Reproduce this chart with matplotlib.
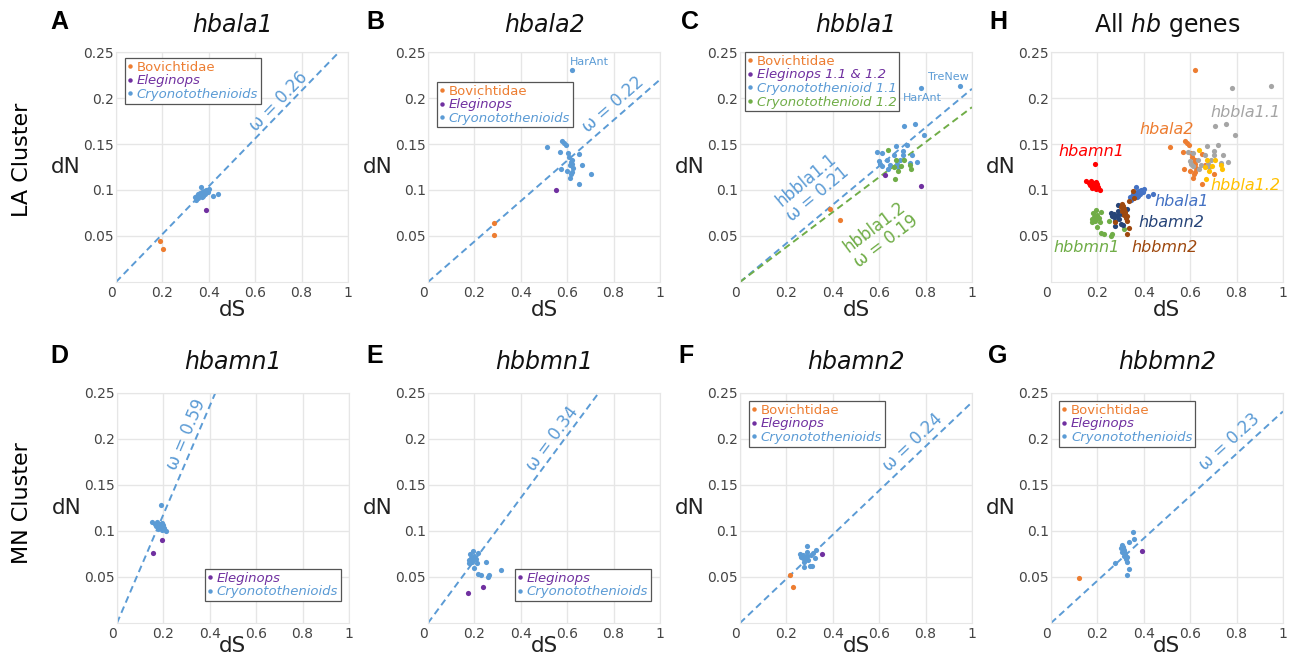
import numpy as np
import matplotlib.pyplot as plt
from matplotlib.lines import Line2D

# ---- data (dS, dN) ----
# A  hbala1
a_bov_x = [0.189, 0.201]
a_bov_y = [0.0446, 0.036]
a_ele_x = [0.386]
a_ele_y = [0.078]
a_cry_x = [0.34, 0.345, 0.35, 0.352, 0.355, 0.36, 0.362, 0.365, 0.367, 0.37,
           0.372, 0.375, 0.378, 0.38, 0.385, 0.39, 0.395, 0.40, 0.42, 0.44]
a_cry_y = [0.092, 0.089, 0.094, 0.091, 0.096, 0.093, 0.097, 0.103, 0.095, 0.092,
           0.098, 0.094, 0.097, 0.099, 0.096, 0.1, 0.098, 0.101, 0.094, 0.096]
a_omega = 0.26

# B  hbala2 (last cryo point is HarAnt)
b_bov_x = [0.283, 0.283]
b_bov_y = [0.064, 0.051]
b_ele_x = [0.553]
b_ele_y = [0.0996]
b_cry_x = [0.514, 0.576, 0.585, 0.593, 0.571, 0.604, 0.607, 0.65, 0.617, 0.621, 0.614,
           0.664, 0.574, 0.6, 0.62, 0.617, 0.614, 0.65, 0.702, 0.621, 0.624, 0.619]
b_cry_y = [0.147, 0.1536, 0.151, 0.149, 0.1416, 0.1406, 0.136, 0.139, 0.130, 0.128, 0.127,
           0.127, 0.1225, 0.1207, 0.12, 0.117, 0.113, 0.1065, 0.117, 0.1326, 0.124, 0.230]
b_omega = 0.22

# C  hbbla1 (HarAnt and TreNew are in the 1.1 set)
c_bov_x = [0.386, 0.429]
c_bov_y = [0.0797, 0.067]
c_ele_x = [0.626, 0.78]
c_ele_y = [0.116, 0.104]
c_cry1_x = [0.590, 0.614, 0.673, 0.719, 0.708, 0.753, 0.794, 0.780, 0.947, 0.600, 0.633, 0.662,
            0.691, 0.702, 0.702, 0.741, 0.612, 0.647, 0.676, 0.731, 0.763, 0.640, 0.683, 0.604]
c_cry1_y = [0.1413, 0.1402, 0.1478, 0.1486, 0.1692, 0.1714, 0.1594, 0.2112, 0.2127, 0.1315, 0.1322, 0.1377,
            0.1330, 0.1377, 0.1424, 0.1377, 0.1261, 0.1268, 0.1286, 0.1293, 0.1304, 0.1232, 0.1250, 0.1279]
c_cry2_x = [0.636, 0.673, 0.694, 0.669, 0.738, 0.708, 0.683, 0.662, 0.734]
c_cry2_y = [0.1438, 0.1330, 0.1257, 0.1123, 0.1232, 0.1330, 0.1207, 0.1250, 0.1268]
c_omega1 = 0.21
c_omega2 = 0.19

# D  hbamn1
d_ele_x = [0.156, 0.195]
d_ele_y = [0.0759, 0.0903]
d_cry_x = [0.188, 0.149, 0.163, 0.173, 0.182, 0.192, 0.199, 0.188,
           0.202, 0.211, 0.177, 0.196, 0.185, 0.170, 0.180, 0.194]
d_cry_y = [0.128, 0.110, 0.108, 0.110, 0.1055, 0.109, 0.1066, 0.103,
           0.103, 0.1004, 0.102, 0.101, 0.1077, 0.1055, 0.1035, 0.1045]
d_omega = 0.59

# E  hbbmn1
e_ele_x = [0.171, 0.236]
e_ele_y = [0.0325, 0.0387]
e_cry_x = [0.193, 0.179, 0.2, 0.207, 0.176, 0.19, 0.176, 0.21, 0.2,
           0.25, 0.214, 0.229, 0.257, 0.261, 0.314, 0.214, 0.185, 0.195]
e_cry_y = [0.0784, 0.0748, 0.0723, 0.0697, 0.0686, 0.066, 0.065, 0.065, 0.0596,
           0.066, 0.0535, 0.0517, 0.0499, 0.0524, 0.0578, 0.0759, 0.0705, 0.068]
e_omega = 0.34

# F  hbamn2
f_bov_x = [0.216, 0.227]
f_bov_y = [0.0524, 0.0387]
f_ele_x = [0.353]
f_ele_y = [0.0751]
f_cry_x = [0.288, 0.259, 0.273, 0.288, 0.27, 0.295, 0.277, 0.277, 0.302,
           0.309, 0.324, 0.314, 0.328, 0.305, 0.283, 0.265, 0.29]
f_cry_y = [0.0838, 0.0751, 0.074, 0.073, 0.0705, 0.0686, 0.0658, 0.0607, 0.0625,
           0.0621, 0.0705, 0.0759, 0.0795, 0.074, 0.0715, 0.072, 0.0768]
f_omega = 0.24

# G  hbbmn2
g_bov_x = [0.122]
g_bov_y = [0.0488]
g_ele_x = [0.393]
g_ele_y = [0.0788]
g_cry_x = [0.353, 0.358, 0.338, 0.305, 0.309, 0.305, 0.32, 0.313, 0.324,
           0.329, 0.327, 0.276, 0.338, 0.329, 0.31, 0.315, 0.318, 0.30]
g_cry_y = [0.0986, 0.0914, 0.0885, 0.0849, 0.0813, 0.0777, 0.0759, 0.0723, 0.0694,
           0.0658, 0.0715, 0.065, 0.0585, 0.0524, 0.083, 0.079, 0.074, 0.081]
g_omega = 0.23

# H  all hb genes: cryonotothenioid points of every gene
genes = ['hbala1', 'hbala2', 'hbbla1.1', 'hbbla1.2', 'hbamn1', 'hbbmn1', 'hbamn2', 'hbbmn2']
gene_x = [a_cry_x, b_cry_x, c_cry1_x, c_cry2_x, d_cry_x, e_cry_x, f_cry_x, g_cry_x]
gene_y = [a_cry_y, b_cry_y, c_cry1_y, c_cry2_y, d_cry_y, e_cry_y, f_cry_y, g_cry_y]

xticks = [0, 0.2, 0.4, 0.6, 0.8, 1]
xtick_labels = ['0', '0.2', '0.4', '0.6', '0.8', '1']
yticks = [0.05, 0.1, 0.15, 0.2, 0.25]
ytick_labels = ['0.05', '0.1', '0.15', '0.2', '0.25']

# ---- colours ----
ORANGE = '#ED7D31'
PURPLE = '#7030A0'
BLUE = '#5B9BD5'
GREEN = '#70AD47'
gene_colors = ['#4472C4', '#ED7D31', '#A5A5A5', '#FFC000', '#FF0000', '#70AD47', '#264478', '#9E480E']

W, H = 1291, 664
fig = plt.figure(figsize=(W / 100, H / 100), dpi=100)
plt.rcParams['font.family'] = 'DejaVu Sans'


def make_ax(left_px, bottom_px):
    return fig.add_axes([left_px / W, (H - bottom_px) / H, 232 / W, 230 / H])


def style(ax, title, title_y, xlabel_y):
    ax.set_xlim(0, 1)
    ax.set_ylim(0, 0.25)
    ax.set_xticks(xticks)
    ax.set_xticklabels(xtick_labels)
    ax.set_yticks(yticks)
    ax.set_yticklabels(ytick_labels)
    ax.get_xticklabels()[0].set_ha('right')
    ax.grid(True, color='#e6e6e6', lw=1)
    ax.set_axisbelow(True)
    for s in ax.spines.values():
        s.set_color('#e6e6e6')
    ax.tick_params(axis='both', length=0, labelsize=10, labelcolor='#444')
    ax.tick_params(axis='y', pad=1.5)
    ax.tick_params(axis='x', pad=3)
    ax.set_xlabel('dS', fontsize=15.5, color='#222', va='center')
    ax.set_ylabel('dN', fontsize=15.5, color='#222', rotation=0, ha='center', va='center')
    ax.xaxis.set_label_coords(0.5, xlabel_y)
    ax.yaxis.set_label_coords(-0.215, 0.5)
    ax.text(0.5, title_y, title, transform=ax.transAxes, ha='center', va='center',
            fontsize=17, style='italic', color='#111')


def dots(ax, x, y, c):
    ax.scatter(x, y, s=14, color=c, linewidths=0, zorder=3)


def omega_line(ax, omega, c, lx, ly, label, fs=12):
    xs = np.array([0.0, 1.0])
    ax.plot(xs, omega * xs, color=c, lw=1.4, dashes=(3.5, 2.2), zorder=2)
    ax.text(lx, ly, label, color=c, fontsize=fs, ha='center', va='center',
            rotation=np.degrees(np.arctan(omega)), transform_rotates_text=True,
            rotation_mode='anchor', multialignment='center', linespacing=1.05)


def add_legend(ax, entries, loc, anchor):
    handles = [Line2D([], [], ls='none', marker='o', ms=3.2, color=c, mew=0) for _, c, _ in entries]
    leg = ax.legend(handles, [e[0] for e in entries], loc=loc, bbox_to_anchor=anchor,
                    fontsize=9.5, frameon=True, fancybox=False, edgecolor='#555',
                    framealpha=1, borderpad=0.2, labelspacing=0.05, handlelength=0.4,
                    handletextpad=0.3, borderaxespad=0)
    leg.get_frame().set_linewidth(0.9)
    for t, (_, c, it) in zip(leg.get_texts(), entries):
        t.set_color(c)
        if it:
            t.set_style('italic')


std3 = [('Bovichtidae', ORANGE, False), ('Eleginops', PURPLE, True),
        ('Cryonotothenioids', BLUE, True)]
std2 = [('Eleginops', PURPLE, True), ('Cryonotothenioids', BLUE, True)]

# ---- A ----
ax = make_ax(116, 282)
style(ax, 'hbala1', 1.117, -0.122)
omega_line(ax, a_omega, BLUE, 0.70, 0.196, 'ω = %.2f' % a_omega)
dots(ax, a_bov_x, a_bov_y, ORANGE)
dots(ax, a_ele_x, a_ele_y, PURPLE)
dots(ax, a_cry_x, a_cry_y, BLUE)
add_legend(ax, std3, 'upper left', (0.039, 0.974))

# ---- B ----
ax = make_ax(428, 282)
style(ax, 'hbala2', 1.117, -0.122)
omega_line(ax, b_omega, BLUE, 0.80, 0.193, 'ω = %.2f' % b_omega)
dots(ax, b_bov_x, b_bov_y, ORANGE)
dots(ax, b_ele_x, b_ele_y, PURPLE)
dots(ax, b_cry_x, b_cry_y, BLUE)
ax.text(0.697, 0.239, 'HarAnt', color=BLUE, fontsize=8, ha='center', va='center')
add_legend(ax, std3, 'upper left', (0.038, 0.87))

# ---- C ----
ax = make_ax(740, 282)
style(ax, 'hbbla1', 1.117, -0.122)
omega_line(ax, c_omega1, BLUE, 0.31, 0.103, 'hbbla1.1\nω = %.2f' % c_omega1)
omega_line(ax, c_omega2, GREEN, 0.605, 0.052, 'hbbla1.2\nω = %.2f' % c_omega2)
dots(ax, c_bov_x, c_bov_y, ORANGE)
dots(ax, c_ele_x, c_ele_y, PURPLE)
dots(ax, c_cry1_x, c_cry1_y, BLUE)
dots(ax, c_cry2_x, c_cry2_y, GREEN)
ax.text(0.897, 0.223, 'TreNew', color=BLUE, fontsize=8, ha='center', va='center')
ax.text(0.784, 0.2005, 'HarAnt', color=BLUE, fontsize=8, ha='center', va='center')
add_legend(ax, [('Bovichtidae', ORANGE, False), ('Eleginops 1.1 & 1.2', PURPLE, True),
                ('Cryonotothenioid 1.1', BLUE, True), ('Cryonotothenioid 1.2', GREEN, True)],
           'upper left', (0.02, 1.0))

# ---- H ----
ax = make_ax(1051, 282)
style(ax, r'All $\mathit{hb}$ genes', 1.117, -0.122)
ax.texts[-1].set_style('normal')
for gx, gy, gc in zip(gene_x, gene_y, gene_colors):
    dots(ax, gx, gy, gc)
h_label_pos = [(0.565, 0.087), (0.50, 0.166), (0.84, 0.184), (0.836, 0.105),
               (0.175, 0.142), (0.155, 0.037), (0.52, 0.065), (0.488, 0.038)]
for g, (lx, ly), gc in zip(genes, h_label_pos, gene_colors):
    ax.text(lx, ly, g, color=gc, fontsize=11.5, style='italic', ha='center', va='center')

# ---- D ----
ax = make_ax(117, 623)
style(ax, 'hbamn1', 1.135, -0.10)
omega_line(ax, d_omega, BLUE, 0.30, 0.205, 'ω = %.2f' % d_omega)
dots(ax, d_ele_x, d_ele_y, PURPLE)
dots(ax, d_cry_x, d_cry_y, BLUE)
add_legend(ax, std2, 'lower right', (0.965, 0.096))

# ---- E ----
ax = make_ax(428, 623)
style(ax, 'hbbmn1', 1.135, -0.10)
omega_line(ax, e_omega, BLUE, 0.536, 0.2005, 'ω = %.2f' % e_omega)
dots(ax, e_ele_x, e_ele_y, PURPLE)
dots(ax, e_cry_x, e_cry_y, BLUE)
add_legend(ax, std2, 'lower right', (0.96, 0.096))

# ---- F ----
ax = make_ax(740, 623)
style(ax, 'hbamn2', 1.135, -0.10)
omega_line(ax, f_omega, BLUE, 0.744, 0.196, 'ω = %.2f' % f_omega)
dots(ax, f_bov_x, f_bov_y, ORANGE)
dots(ax, f_ele_x, f_ele_y, PURPLE)
dots(ax, f_cry_x, f_cry_y, BLUE)
add_legend(ax, std3, 'upper left', (0.039, 0.965))

# ---- G ----
ax = make_ax(1051, 623)
style(ax, 'hbbmn2', 1.135, -0.10)
omega_line(ax, g_omega, BLUE, 0.768, 0.197, 'ω = %.2f' % g_omega)
dots(ax, g_bov_x, g_bov_y, ORANGE)
dots(ax, g_ele_x, g_ele_y, PURPLE)
dots(ax, g_cry_x, g_cry_y, BLUE)
add_legend(ax, std3, 'upper left', (0.035, 0.965))

# panel letters and row labels
for letter, px, py in [('A', 59, 22), ('B', 375, 22), ('C', 690, 22), ('H', 998, 22),
                       ('D', 59, 356), ('E', 375, 356), ('F', 686, 356), ('G', 998, 356)]:
    fig.text(px / W, 1 - py / H, letter, fontsize=18, fontweight='bold',
             family='Liberation Sans', ha='center', va='center')
fig.text(22 / W, 1 - 160 / H, 'LA Cluster', rotation=90, fontsize=16, ha='center', va='center')
fig.text(22 / W, 1 - 503 / H, 'MN Cluster', rotation=90, fontsize=16, ha='center', va='center')

fig.savefig('out.png', dpi=100)
